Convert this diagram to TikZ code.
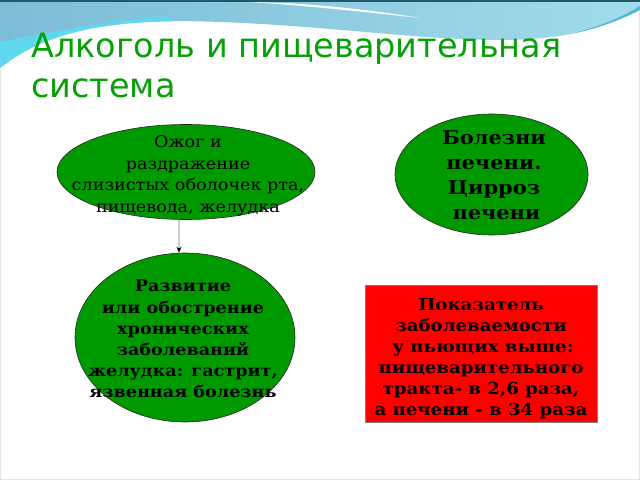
\documentclass[tikz,border=0pt]{standalone}
\usepackage{fontspec}
\setmainfont[FakeStretch=1.1]{DejaVu Serif}
\newfontfamily\titlefont{DejaVu Sans}
\usetikzlibrary{shapes.geometric,arrows.meta}
\definecolor{ovalgreen}{RGB}{0,153,0}
\definecolor{titlegreen}{RGB}{8,160,8}
\definecolor{wavedark}{RGB}{30,90,105}
\definecolor{waveleft}{RGB}{125,188,215}
\definecolor{waveright}{RGB}{160,220,235}
\definecolor{wavecyan}{RGB}{95,215,238}
\definecolor{waveswoosh}{RGB}{85,180,212}

\begin{document}
\begin{tikzpicture}[x=1bp, y=-1bp,
    oval/.style={ellipse, draw=black!85, line width=0.6bp, fill=ovalgreen, inner sep=0pt},
    txt/.style={align=center, inner sep=0pt, anchor=north, text=black}]
    \useasboundingbox (0,0) rectangle (640,480);
    \fill[white] (0,0) rectangle (640,480);
    \draw[black!10] (0.5,0.5) rectangle (639.5,479.5);

    % wave at the top
    \def\wavepath{(0,0) -- (640,0) -- (640,10) .. controls (600,30) and (560,40) .. (500,40)
        .. controls (420,40) and (330,26) .. (220,22) .. controls (120,18) and (50,28) .. (0,68) -- cycle}
    \shade[left color=waveleft, right color=waveright] \wavepath;
    \begin{scope}
        \clip \wavepath;
        \fill[wavecyan] (0,42) .. controls (50,32) and (100,22) .. (170,16) -- (170,100) -- (0,100) -- cycle;
        \fill[waveswoosh] (500,44) .. controls (570,40) and (615,22) .. (640,6) -- (640,18)
            .. controls (612,32) and (570,44) .. (500,44) -- cycle;
        \fill[white] (250,2) .. controls (310,3) and (365,9) .. (420,18)
            .. controls (365,12) and (310,6) .. (250,2) -- cycle;
    \end{scope}
    \fill[wavedark] (0,0) rectangle (640,2);

    % title
    \node[anchor=north west, inner sep=0pt, align=left, text=titlegreen,
        font=\titlefont\fontsize{33.5bp}{40bp}\selectfont] (title) at (31,33)
        {Алкоголь и пищеварительная\\система};

    % ovals
    \node[oval, minimum width=258bp, minimum height=95bp] (burn) at (186,172) {};
    \node[txt, font=\fontsize{16bp}{21.5bp}\selectfont] (burntext) at (188,135.5)
        {Ожог и\\раздражение\\слизистых оболочек рта,\\пищевода, желудка};

    \node[oval, minimum width=193bp, minimum height=121bp] (liver) at (491.5,174.5) {};
    \node[txt, font=\bfseries\fontsize{19bp}{25bp}\selectfont] (livertext) at (494,130.5)
        {Болезни\\печени.\\Цирроз\hspace*{5bp}\\\hspace*{5bp}печени};

    \node[oval, minimum width=220bp, minimum height=169bp] (ulcer) at (185,337.5) {};
    \node[txt, font=\bfseries\fontsize{16bp}{21.2bp}\selectfont] (ulcertext) at (183,280)
        {Развитие\\или обострение\\хронических\\заболеваний\\желудка: гастрит,\\язвенная болезнь};

    % box
    \node[draw=black!50, line width=0.6bp, fill=red, inner sep=0pt,
        minimum width=232bp, minimum height=137bp] (rate) at (481,353.5) {};
    \node[txt, font=\bfseries\fontsize{16.5bp}{21bp}\selectfont] (ratetext) at (481,298)
        {Показатель\\заболеваемости\\\hspace*{4bp}у пьющих выше:\\пищеварительного\\тракта- в 2,6 раза,\\а печени - в 34 раза};

    \draw[black!55, line width=0.8bp, -{Stealth[black, length=6bp, width=5bp]}]
        ([xshift=-7bp]burn.south) -- ([xshift=-6bp]ulcer.north);
\end{tikzpicture}
\end{document}
